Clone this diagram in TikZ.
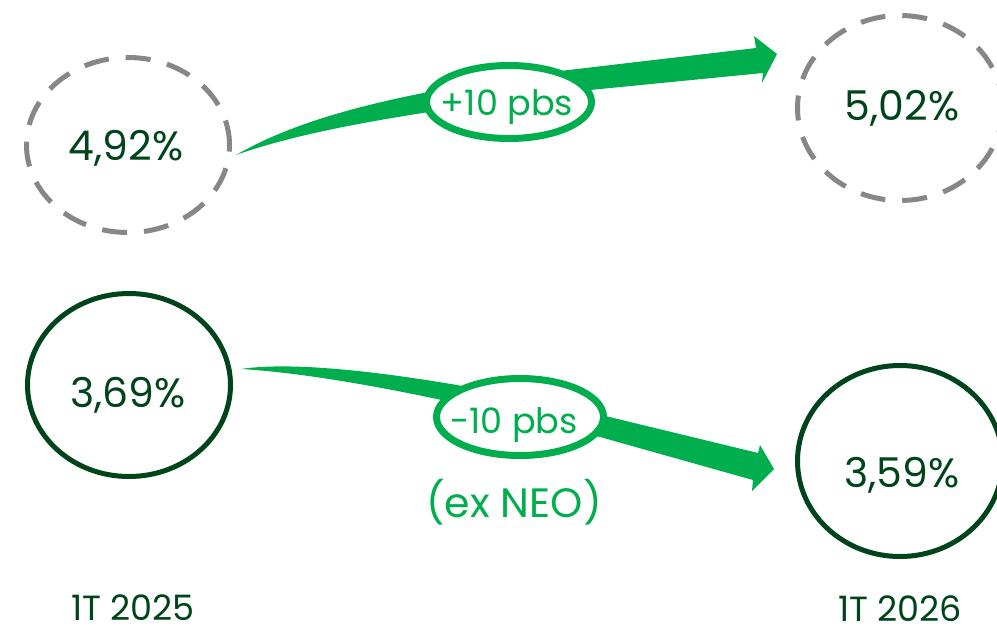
\documentclass[tikz,border=0pt]{standalone}
\usepackage{fontspec}
\setmainfont{Poppins}
\usetikzlibrary{shapes.geometric}
\definecolor{arrgreen}{RGB}{0,174,77}
\definecolor{darkgreen}{RGB}{0,68,27}
\definecolor{dashgray}{RGB}{135,135,135}
\begin{document}
\begin{tikzpicture}[x=1pt,y=-1pt,
  valcircle/.style={ellipse, draw=darkgreen, line width=5pt, inner sep=0pt},
  prevcircle/.style={ellipse, draw=dashgray, line width=5pt, dash pattern=on 25pt off 17pt, inner sep=0pt},
  valtext/.style={text=darkgreen, font=\fontsize{41}{48}\selectfont, anchor=base, inner sep=0pt},
  yeartext/.style={text=darkgreen, font=\fontsize{35}{42}\selectfont, anchor=base, inner sep=0pt},
  deltalabel/.style={ellipse, draw=arrgreen, fill=white, line width=7pt, inner sep=0pt},
  deltatext/.style={text=arrgreen, font=\fontsize{35}{42}\selectfont, anchor=base, inner sep=0pt},
  bigarrow/.style={fill=arrgreen, draw=none}
]
\useasboundingbox (0,0) rectangle (997,633);
\clip (0,0) rectangle (997,633);

% value circles
\node[prevcircle, minimum width=203pt, minimum height=175pt] (c1) at (128,145) {};
\node[prevcircle, minimum width=205pt, minimum height=185pt] (c2) at (900,108) {};
\node[valcircle, minimum width=203pt, minimum height=183pt] (c3) at (129,385) {};
\node[valcircle, minimum width=205pt, minimum height=191pt] (c4) at (900,461) {};

\node[valtext] (t1) at (126,160) {4,92\%};
\node[valtext] (t2) at (902,120) {5,02\%};
\node[valtext] (t3) at (128,407) {3,69\%};
\node[valtext] (t4) at (902,487) {3,59\%};

\node[yeartext] (y1) at (133,620) {1T 2025};
\node[yeartext] (y2) at (900,621) {1T 2026};

% arrow key points
\coordinate (a1tail) at (236,155);
\coordinate (a1tip) at (777,54);
\coordinate (a2tail) at (241,369);
\coordinate (a2tip) at (774,469);

% upper tapered arrow
\fill[bigarrow] (a1tail) .. controls (310,112) and (420,90) .. (560,71) -- (756,48) -- (754,36) -- (a1tip) -- (762,83) -- (763,73) -- (590,90) .. controls (450,108) and (320,125) .. (a1tail) -- cycle;

% lower tapered arrow
\fill[bigarrow] (a2tail) .. controls (300,360) and (420,375) .. (560,405) -- (758,453) -- (760,445) -- (a2tip) -- (752,491) -- (753,480) -- (600,437) .. controls (480,407) and (340,375) .. (a2tail) -- cycle;

% delta labels
\node[deltalabel, minimum width=165pt, minimum height=73pt] (d1) at (509,102) {};
\node[deltatext] (d1t) at (507,115) {+10 pbs};
\node[deltalabel, minimum width=167pt, minimum height=77pt] (d2) at (520,417) {};
\node[deltatext] (d2t) at (514,433) {-10 pbs};
\node[deltatext, font=\fontsize{41}{48}\selectfont] (ex) at (514,517) {(ex NEO)};
\end{tikzpicture}
\end{document}
